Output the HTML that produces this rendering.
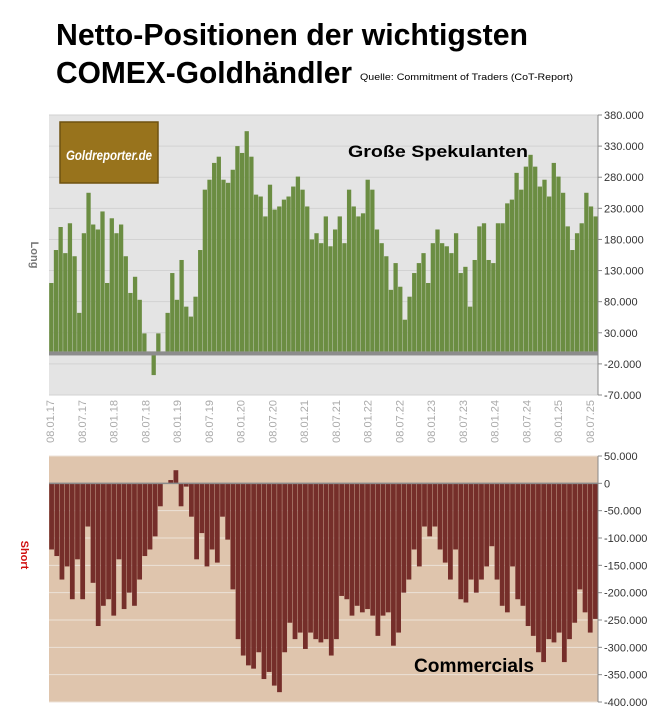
<!DOCTYPE html>
<html><head><meta charset="utf-8">
<style>
html,body{margin:0;padding:0;background:#fff;}
svg{display:block;font-family:"Liberation Sans",sans-serif;}
</style></head>
<body>
<svg id="chart" width="670" height="725" viewBox="0 0 670 725">
  <text x="56" y="45" font-size="31" font-weight="bold" fill="#000" textLength="472" lengthAdjust="spacingAndGlyphs">Netto-Positionen der wichtigsten</text>
  <text x="56" y="83" font-size="31" font-weight="bold" fill="#000" textLength="296" lengthAdjust="spacingAndGlyphs">COMEX-Goldhändler</text>
  <text x="360" y="80" font-size="9.5" fill="#000" textLength="213" lengthAdjust="spacingAndGlyphs">Quelle: Commitment of Traders (CoT-Report)</text>

  <rect x="49" y="115" width="549" height="280" fill="#e4e4e4"/>
  <g id="topGrid"></g>
  <g id="topBars"></g>
  <line x1="598" y1="115" x2="598" y2="395" stroke="#888" stroke-width="1"/>
  <g id="topTicks"></g>

  <rect x="60" y="122" width="98" height="61" fill="#98731c" stroke="#6e5210" stroke-width="1.5"/>
  <text x="66" y="160" font-size="14" font-style="italic" font-weight="bold" fill="#fff" textLength="86" lengthAdjust="spacingAndGlyphs">Goldreporter.de</text>

  <text x="348" y="157" font-size="17" font-weight="bold" fill="#000" textLength="180" lengthAdjust="spacingAndGlyphs">Große Spekulanten</text>
  <text x="31" y="255" font-size="11" font-weight="bold" fill="#777" transform="rotate(90 31 255)" text-anchor="middle">Long</text>

  <g id="xLabels"></g>

  <rect x="49" y="456" width="549" height="246" fill="#dfc5ad"/>
  <g id="botGrid"></g>
  <g id="botBars"></g>
  <line x1="598" y1="456" x2="598" y2="702" stroke="#888" stroke-width="1"/>
  <g id="botTicks"></g>
  <text x="414" y="672" font-size="19" font-weight="bold" fill="#000" textLength="120" lengthAdjust="spacingAndGlyphs">Commercials</text>
  <text x="21" y="555" font-size="11" font-weight="bold" fill="#d01010" transform="rotate(90 21 555)" text-anchor="middle">Short</text>
</svg>
<script>
const xTickLabels = ["08.01.17","08.07.17","08.01.18","08.07.18","08.01.19","08.07.19","08.01.20","08.07.20","08.01.21","08.07.21","08.01.22","08.07.22","08.01.23","08.07.23","08.01.24","08.07.24","08.01.25","08.07.25"];
const topTickValues = [380,330,280,230,180,130,80,30,-20,-70];
const topTickLabels = ["380.000","330.000","280.000","230.000","180.000","130.000","80.000","30.000","-20.000","-70.000"];
const botTickValues = [50,0,-50,-100,-150,-200,-250,-300,-350,-400];
const botTickLabels = ["50.000","0","-50.000","-100.000","-150.000","-200.000","-250.000","-300.000","-350.000","-400.000"];
// Große Spekulanten net positions (thousand contracts)
const specValues = [110,163,200,158,206,153,62,190,255,204,196,225,110,214,190,204,153,94,120,83,29,-5,-38,29,-5,62,126,83,147,72,56,88,163,260,276,303,313,276,271,292,330,319,354,313,252,249,217,268,228,233,244,249,265,281,260,233,180,190,174,217,169,196,217,174,260,233,217,222,276,260,196,174,153,99,142,104,51,88,126,142,158,110,174,196,174,169,158,190,126,136,72,147,201,206,147,142,206,206,238,244,287,260,297,316,297,265,276,249,303,281,255,201,163,190,206,255,233,217];
// Commercials net positions (thousand contracts)
const commValues = [-121,-133,-176,-152,-212,-139,-212,-79,-182,-261,-224,-212,-242,-139,-230,-200,-224,-176,-133,-121,-97,-42,0,6,24,-42,-6,-61,-139,-91,-152,-121,-145,-61,-103,-194,-285,-315,-333,-339,-309,-358,-345,-370,-382,-309,-255,-285,-273,-303,-273,-285,-291,-285,-315,-285,-206,-212,-242,-224,-236,-230,-242,-279,-242,-236,-297,-273,-200,-176,-121,-152,-79,-97,-79,-121,-145,-176,-121,-212,-218,-176,-200,-176,-152,-115,-176,-224,-236,-152,-212,-224,-261,-279,-309,-327,-285,-291,-273,-327,-285,-255,-194,-236,-273,-248];

const NS="http://www.w3.org/2000/svg";
const X0=49, W=549;
const topY = v => 115 + (380 - v) * (280/450);
const botY = v => 456 + (50 - v) * (246/450);
function mk(tag, attrs, parent){const e=document.createElementNS(NS,tag);for(const k in attrs)e.setAttribute(k,attrs[k]);parent.appendChild(e);return e;}

const tg=document.getElementById('topGrid'), tt=document.getElementById('topTicks');
topTickValues.forEach((v,i)=>{
  const y=topY(v);
  const gl=mk('line',{x1:X0,x2:X0+W,y1:y,y2:y,stroke:'#d2d2d2','stroke-width':1},tg);
  
  
  const tk=mk('line',{x1:598,x2:602,y1:y,y2:y,stroke:'#888'},tt);
  
  
  const t=mk('text',{x:604,y:y+4,'font-size':11,fill:'#333'},tt);
  t.textContent=topTickLabels[i];
  
  
});
const tb=document.getElementById('topBars');
const sStep=W/specValues.length;
specValues.forEach((v,i)=>{
  const y0=topY(0), y=topY(v);
  const r=mk('rect',{x:X0+i*sStep+sStep*0.04,y:Math.min(y,y0),width:sStep*0.92,height:Math.abs(y0-y),fill:'#6b8d42'},tb);
  
  
});
const band=mk('rect',{x:X0,y:topY(0),width:W,height:4,fill:'#8c8c8c'},tb);



const bg=document.getElementById('botGrid'), bt=document.getElementById('botTicks');
botTickValues.forEach((v,i)=>{
  const y=botY(v);
  const gl=mk('line',{x1:X0,x2:X0+W,y1:y,y2:y,stroke:v===0?'#888':'#ece2d8','stroke-width':1},bg);
  
  
  const tk=mk('line',{x1:598,x2:602,y1:y,y2:y,stroke:'#888'},bt);
  
  
  const t=mk('text',{x:604,y:y+4,'font-size':11,fill:'#333'},bt);
  t.textContent=botTickLabels[i];
  
  
});
const bb=document.getElementById('botBars');
const cStep=W/commValues.length;
commValues.forEach((v,i)=>{
  const y0=botY(0), y=botY(v);
  const r=mk('rect',{x:X0+i*cStep+cStep*0.04,y:Math.min(y,y0),width:cStep*0.92,height:Math.max(Math.abs(y0-y),0.5),fill:'#752e2a'},bb);
  
  
});
const zl=mk('line',{x1:X0,x2:X0+W,y1:botY(0),y2:botY(0),stroke:'#8a8a8a','stroke-width':1.5},bb);



const xl=document.getElementById('xLabels');
const xStep=540/(xTickLabels.length-1);
xTickLabels.forEach((s,i)=>{
  const x=50+i*xStep;
  const t=mk('text',{x:x+4,y:400,'font-size':11,fill:'#aaa','text-anchor':'end',transform:`rotate(-90 ${x+4} 400)`},xl);
  t.textContent=s;
  
  
});
</script>
</body></html>
